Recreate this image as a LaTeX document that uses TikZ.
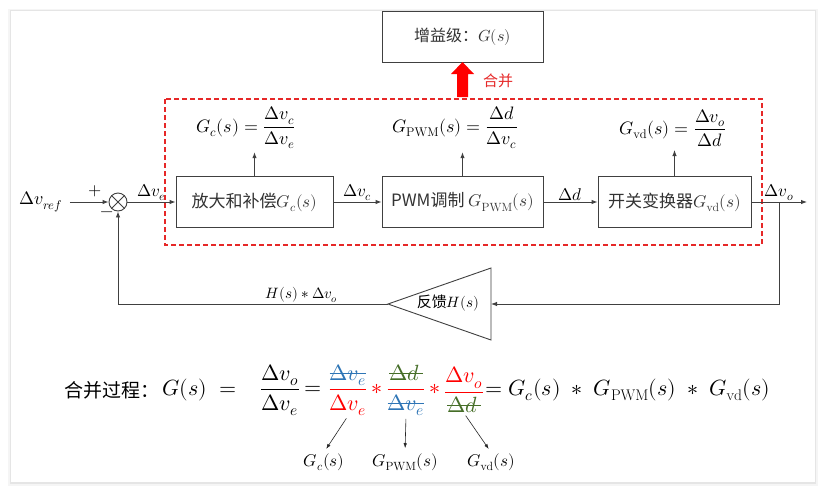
\documentclass[tikz,border=0pt]{standalone}
\usepackage{amsmath}
\usepackage{fontspec}
\usepackage{unicode-math}
\setmathfont{Latin Modern Math}
\newfontfamily\cjk{Noto Sans CJK SC}
\usetikzlibrary{arrows.meta, positioning}
\definecolor{lred}{RGB}{230,40,40}
\definecolor{sblue}{RGB}{46,117,182}
\definecolor{sgreen}{RGB}{70,110,40}
\newcommand{\strk}[1]{\mbox{\setbox0\hbox{$#1$}\rlap{\rule[0.55ex]{\wd0}{0.8pt}}\box0}}
\tikzset{
    every node/.style={font=\cjk\fontsize{17}{20}\selectfont, inner sep=1pt},
    block/.style={rectangle, draw=black!75, line width=0.9pt, minimum height=51pt, text=black!80},
    wire/.style={draw=black!75, line width=0.9pt},
    arr/.style={wire, -{Latex[length=6pt,width=4.5pt]}},
    thinarr/.style={draw=black!85, line width=0.6pt, -{Latex[length=5pt,width=3.5pt]}},
    eq/.style={font=\cjk\fontsize{22}{26}\selectfont, inner sep=0pt},
    small/.style={font=\cjk\fontsize{15}{18}\selectfont},
    lab/.style={font=\fontsize{18}{21}\selectfont}
}

\begin{document}
\begin{tikzpicture}[x=1pt, y=-1pt]
	\useasboundingbox (0,0) rectangle (826,493);
	\fill[black!4] (8,9) rectangle (818,486);
	\fill[black!10] (10,10) rectangle (816,484);
	\fill[white] (11,11) rectangle (815,482);

	\node (gain) [block, minimum width=161pt, font=\cjk\fontsize{16}{19}\selectfont] at (462.5,36.5) {增益级：$G(s)$};
	\fill[red] (457,97) -- (457,74) -- (451,74) -- (462.5,62) -- (474,74) -- (468,74) -- (468,97) -- cycle;
	\node (merge) [small, text=lred] at (498,81) {合并};
	\draw[lred, line width=1.3pt, dash pattern=on 5pt off 3pt] (165,99) rectangle (762,245);

	\node (ref) [lab] at (41,202) {$\Delta v_{ref}$};
	\node (plus) at (95,191) {$+$};
	\node (minus) at (107,214) {$-$};
	\node (sum) [circle, wire, minimum size=18pt, inner sep=0pt] at (118,202) {};
	\draw[wire] (sum.north west) -- (sum.south east) (sum.north east) -- (sum.south west);
	\node (gc) [block, minimum width=157pt] at (254.5,202) {放大和补偿$G_c(s)$};
	\node (pwm) [block, minimum width=161pt] at (462.5,202) {PWM调制 $G_{\mathrm{PWM}}(s)$};
	\node (vd) [block, minimum width=153pt] at (674.5,202) {开关变换器$G_{\mathrm{vd}}(s)$};

	\node (gclab) [lab] at (246,128) {$G_c(s)=\dfrac{\Delta v_c}{\Delta v_e}$};
	\node (pwmlab) [lab] at (455,128) {$G_{\mathrm{PWM}}(s)=\dfrac{\Delta d}{\Delta v_c}$};
	\node (vdlab) [lab] at (673,128) {$G_{\mathrm{vd}}(s)=\dfrac{\Delta v_o}{\Delta d}$};

	\coordinate (br) at (779,202);
	\coordinate (out) at (807,202);
	\coordinate (fbtip) at (388,304);
	\coordinate (fbbase) at (491,304);
	\draw[wire] (fbtip) -- (491,268) -- (491,340) -- cycle;
	\node (fb) [small] at (448,303) {反馈$H(s)$};

	\draw[arr, shorten <=6pt] (ref) -- (sum);
	\draw[arr] (sum) -- node[above] {$\Delta v_e$} (gc);
	\draw[arr] (gc) -- node[above] {$\Delta v_c$} (pwm);
	\draw[arr] (pwm) -- node[above] {$\Delta d$} (vd);
	\draw[arr] (vd) -- node[above] {$\Delta v_o$} (out);
	\draw[arr] (br) |- (fbbase);
	\draw[arr] (fbtip) -| node[pos=0.16, above, small] {$H(s)\ast\Delta v_o$} (sum);
	\draw[arr, shorten >=2pt] (gc) -- (gc |- gclab.south);
	\draw[arr, shorten >=2pt] (pwm) -- (pwm |- pwmlab.south);
	\draw[arr, shorten >=2pt] (vd) -- (vd |- vdlab.south);

	\node (eqcjk) [eq, anchor=west, font=\cjk\fontsize{19}{22}\selectfont] at (64,390) {合并过程：};
	\node (eqg) [eq, anchor=west] at (162,390) {$G(s)\;=$};
	\node (fr0) [eq] at (280,390) {$\dfrac{\Delta v_o}{\Delta v_e}$};
	\node (eq2) [eq] at (313,390) {$=$};
	\node (fr1) [eq] at (348,390) {$\color{red}\dfrac{\color{sblue}\strk{\Delta v_e}}{\Delta v_e}$};
	\node (m1) [eq, text=red] at (377,389) {$\ast$};
	\node (fr2) [eq] at (406,390) {$\color{red}\dfrac{\color{sgreen}\strk{\Delta d\,}}{\color{sblue}\strk{\Delta v_e}}$};
	\node (m2) [eq, text=red] at (435,389) {$\ast$};
	\node (fr3) [eq] at (464,390) {$\color{red}\dfrac{\Delta v_o}{\color{sgreen}\strk{\Delta d\,}}$};
	\node (eqr) [eq, anchor=west] at (485,390) {$=G_c(s)\;\ast\; G_{\mathrm{PWM}}(s)\;\ast\; G_{\mathrm{vd}}(s)$};

	\node (c1) [font=\fontsize{17}{20}\selectfont] at (324,462) {$G_c(s)$};
	\node (c2) [font=\fontsize{17}{20}\selectfont] at (405,462) {$G_{\mathrm{PWM}}(s)$};
	\node (c3) [font=\fontsize{17}{20}\selectfont] at (491,462) {$G_{\mathrm{vd}}(s)$};
	\draw[thinarr, shorten <=3pt, shorten >=4pt] (fr1.south) -- (c1.north);
	\draw[thinarr, shorten <=3pt, shorten >=4pt] (fr2.south) -- (c2.north);
	\draw[thinarr, shorten <=3pt, shorten >=4pt] (fr3.south) -- (c3.north);
\end{tikzpicture}
\end{document}
